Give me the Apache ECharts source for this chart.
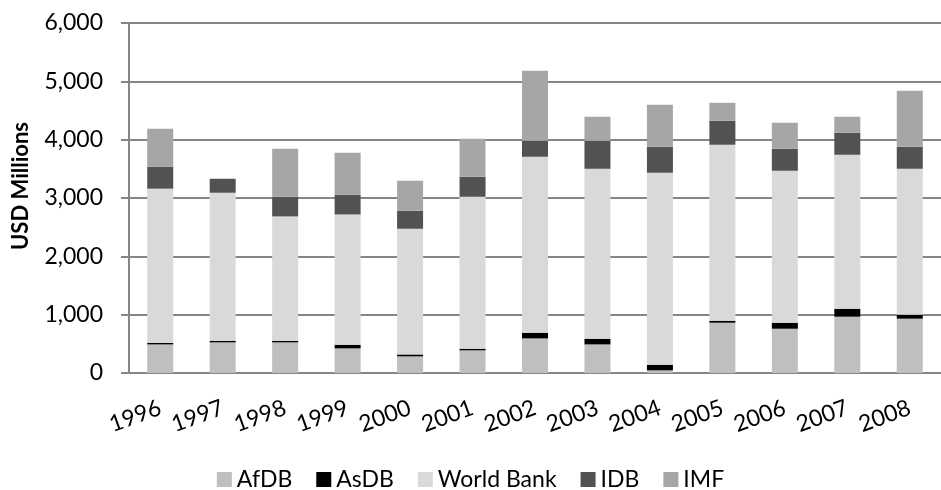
<!DOCTYPE html>
<html>
	<head>
		<meta charset="utf-8">
		<script src="https://cdn.jsdelivr.net/npm/echarts@6/dist/echarts.min.js"></script>
		<style>
			body { margin:0; background:#fff; }
		</style>
	</head>
	<body>
		<div id="main" style="width:941px;height:490px;"></div>
		<script>
			var years = ['1996','1997','1998','1999','2000','2001','2002','2003','2004','2005','2006','2007','2008'];
			var afdb = [490, 525, 525, 422, 285, 388, 593, 490, 45, 862, 759, 965, 931];
			var asdb = [25, 28, 28, 63, 34, 28, 98, 98, 97, 34, 103, 137, 68];
			var worldBank = [2645, 2537, 2131, 2233, 2154, 2605, 3016, 2913, 3291, 3017, 2605, 2639, 2502];
			var idb = [378, 240, 337, 338, 309, 343, 274, 480, 445, 411, 377, 377, 377];
			var imf = [650, 0, 823, 720, 514, 651, 1200, 412, 720, 308, 446, 275, 960];
			var yTicks = [0, 1000, 2000, 3000, 4000, 5000, 6000];

			var font = 'Lato';
			var axisGrey = '#868686';

			function bar(name, data, color) {
				return {
					name: name,
					type: 'bar',
					stack: 'total',
					barWidth: 26,
					data: data,
					itemStyle: { color: color }
				};
			}

			var option = {
				animation: false,
				textStyle: { fontFamily: font, color: '#000' },
				grid: { left: 129, top: 23, width: 823, bottom: 117 },
				// y axis title, placed by hand like the original (a bit above the plot centre)
				graphic: [{
					type: 'text',
					x: 21,
					y: 186,
					rotation: Math.PI / 2,
					style: {
						text: 'USD Millions',
						fill: '#000',
						font: 'bold 22px Lato',
						align: 'center',
						verticalAlign: 'middle'
					}
				}],
				legend: {
					top: 463,
					left: 'center',
					icon: 'rect',
					itemWidth: 15,
					itemHeight: 15,
					itemGap: 24,
					textStyle: { fontFamily: font, fontSize: 23, color: '#000' },
					data: ['AfDB', 'AsDB', 'World Bank', 'IDB', 'IMF']
				},
				xAxis: {
					type: 'category',
					data: years,
					axisLine: { lineStyle: { color: axisGrey, width: 2 } },
					axisTick: { length: 8, lineStyle: { color: axisGrey, width: 2 } },
					axisLabel: { interval: 0, rotate: 20, margin: 34, fontSize: 23, fontFamily: font, color: '#000' }
				},
				yAxis: {
					type: 'value',
					min: yTicks[0],
					max: yTicks[yTicks.length - 1],
					interval: 1000,
					axisLine: { show: true, lineStyle: { color: axisGrey, width: 2 } },
					axisTick: { show: true, length: 8, lineStyle: { color: axisGrey, width: 2 } },
					splitLine: { lineStyle: { color: axisGrey, width: 2 } },
					axisLabel: {
						margin: 26,
						fontSize: 23,
						fontFamily: font,
						color: '#000',
						formatter: function (v) { return v.toLocaleString('en-US'); }
					}
				},
				series: [
					bar('AfDB', afdb, '#bfbfbf'),
					bar('AsDB', asdb, '#000000'),
					bar('World Bank', worldBank, '#d9d9d9'),
					bar('IDB', idb, '#525252'),
					bar('IMF', imf, '#a6a6a6')
				]
			};

			var myChart = echarts.init(document.getElementById('main'));
			myChart.setOption(option, true);
		</script>
	</body>
</html>
